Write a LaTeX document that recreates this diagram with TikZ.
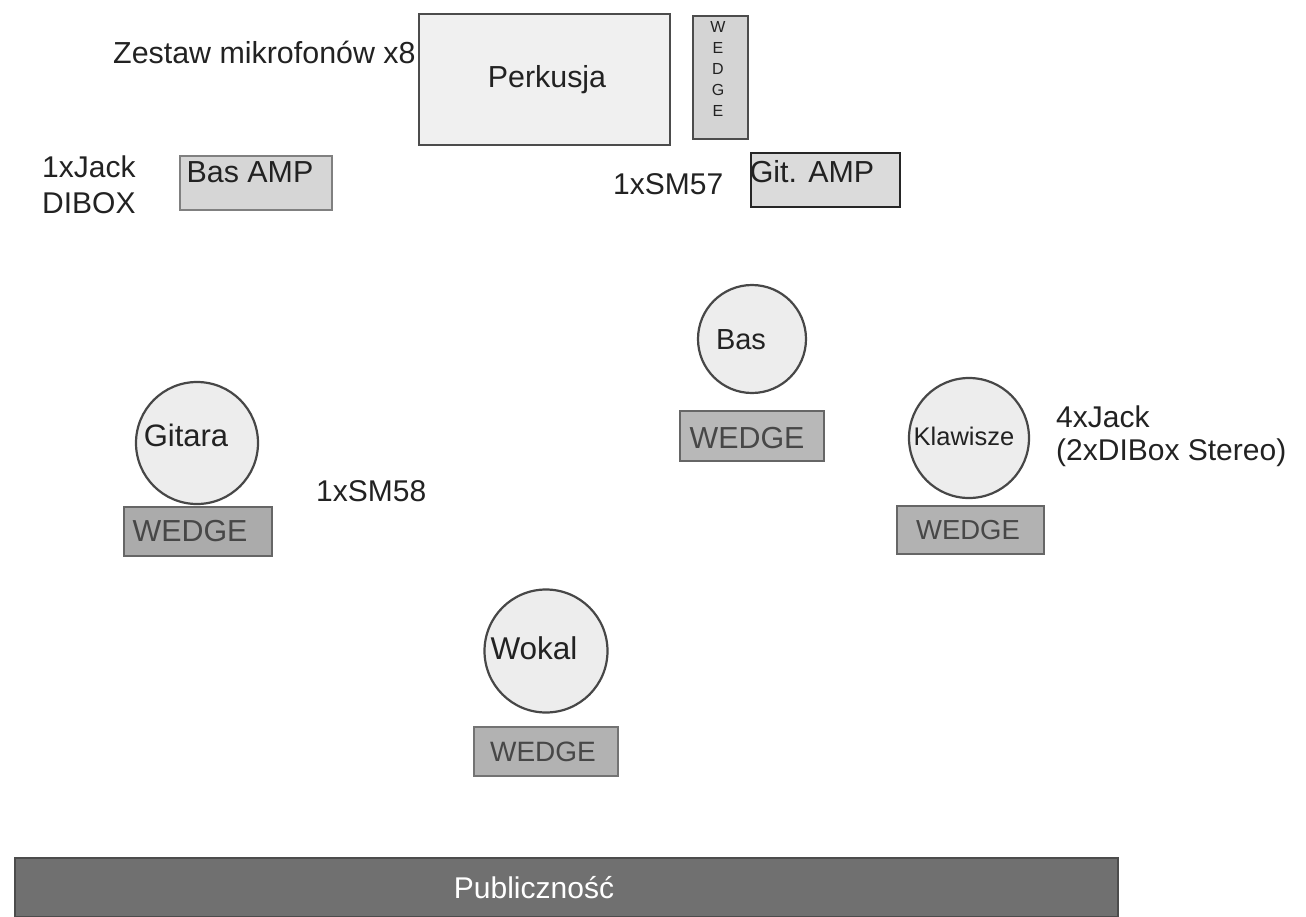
\documentclass[tikz,border=0pt]{standalone}
\usepackage{fontspec}
\setmainfont{Liberation Sans}
\definecolor{ink}{HTML}{222222}
\tikzset{
  x=1pt,y=-1pt,
  box/.style 2 args={draw=#1,fill=#2,line width=2.4pt,rectangle},
  person/.style={draw=black!72,fill=black!7,line width=2.2pt,circle},
  lab/.style={text=ink,inner sep=0pt,anchor=west,font=\fontsize{30}{35}\selectfont},
  mid/.style={text=ink,inner sep=0pt,font=\fontsize{30.4}{35}\selectfont},
  wedgetext/.style={mid,text=black!72},
}
\begin{document}
\begin{tikzpicture}
\useasboundingbox (0,0) rectangle (1306,916);
\path[box={black!70}{black!6}] (419,14) rectangle (670,145);
\node[mid] (perk) at (547,80) {Perkusja};
\path[box={black!70}{black!17}] (693,16) rectangle (748,139);
\node[text=ink,inner sep=0pt,align=center,font=\fontsize{16}{20.9}\selectfont] (vw) at (718,69) {W\\E\\D\\G\\E};
\path[box={black!50}{black!16}] (180,156) rectangle (332,210);
\node[mid] (bamp) at (250,172) {Bas AMP};
\path[box={black!85}{black!14}] (751,153) rectangle (900,207);
\node[mid] (gamp) at (812,172) {Git. AMP};
\node[person,minimum size=108pt] (cbas) at (752,339) {};
\node[mid,font=\fontsize{29}{32}\selectfont] (tbas) at (741,340) {Bas};
\node[person,minimum size=122pt] (cgit) at (197,443) {};
\node[mid,font=\fontsize{31}{35}\selectfont] (tgit) at (186,435) {Gitara};
\node[person,minimum size=120pt] (ckl) at (969,438) {};
\node[mid,font=\fontsize{25.5}{28}\selectfont] (tkl) at (964,436) {Klawisze};
\node[person,minimum size=123pt] (cwok) at (546,651) {};
\node[mid,font=\fontsize{31.5}{35}\selectfont] (twok) at (534,648) {Wokal};
\path[box={black!60}{black!28}] (680,411) rectangle (824,461);
\node[wedgetext] (wbas) at (747,438) {WEDGE};
\path[box={black!60}{black!33}] (124,507) rectangle (272,556);
\node[wedgetext] (wgit) at (190,531) {WEDGE};
\path[box={black!60}{black!30}] (897,506) rectangle (1044,554);
\node[wedgetext,font=\fontsize{27.5}{32}\selectfont] (wkl) at (968,530) {WEDGE};
\path[box={black!55}{black!30}] (474,727) rectangle (618,776);
\node[wedgetext,font=\fontsize{28}{32}\selectfont] (wwok) at (543,752) {WEDGE};
\path[fill=black!56,draw=black!70,line width=1.5pt] (15,858) rectangle (1118,917);
\node[inner sep=0pt,text=white,font=\fontsize{30}{32}\selectfont] (pub) at (534,888) {Publiczność};
\node[lab,font=\fontsize{30.4}{35}\selectfont] (l1) at (113,52) {Zestaw mikrofonów x8};
\node[lab] (l2) at (42,167) {1xJack};
\node[lab] (l3) at (42,203) {DIBOX};
\node[lab] (l4) at (613,184) {1xSM57};
\node[lab] (l5) at (316,491) {1xSM58};
\node[lab] (l6) at (1056,417) {4xJack};
\node[lab] (l7) at (1056,453) {(2xDIBox Stereo)};
\end{tikzpicture}
\end{document}
